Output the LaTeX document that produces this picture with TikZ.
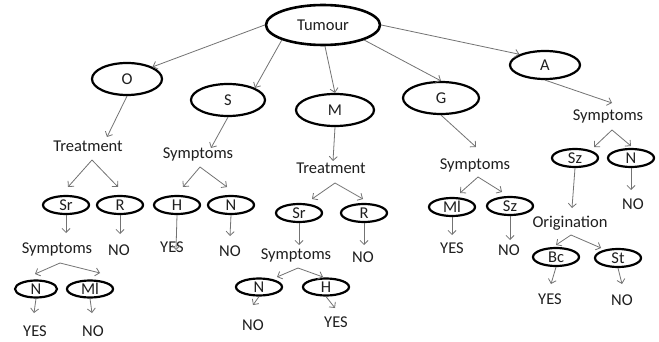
\documentclass[tikz,border=0pt]{standalone}
\usepackage{fontspec}
\setmainfont{Carlito}
\usetikzlibrary{shapes.geometric,arrows.meta,calc}
\begin{document}
\begin{tikzpicture}[x=1pt,y=-1pt,
  every node/.style={font=\fontsize{16.5}{19}\selectfont, text=black!88},
  ell/.style={draw, ellipse, line width=2.2pt, inner sep=0pt, text height=10.5pt, text depth=0pt},
  sm/.style={ell, minimum width=46pt, minimum height=18pt},
  txt/.style={inner sep=0pt, text height=10.5pt, text depth=0pt},
  arr/.style={draw=black!55, line width=0.8pt, -{Straight Barb[length=4pt,width=8pt]}}]
\useasboundingbox[fill=white] (0,0) rectangle (659,342);

% main ellipses
\node[ell, line width=2.6pt, minimum width=114pt, minimum height=40pt] (tum) at (323,25) {Tumour};
\node[ell, minimum width=70pt, minimum height=32pt] (O) at (127,79) {O};
\node[ell, minimum width=74pt, minimum height=32pt] (S) at (228,100) {S};
\node[ell, minimum width=78pt, minimum height=32pt] (M) at (335,110) {M};
\node[ell, minimum width=76pt, minimum height=32pt] (G) at (441,98) {G};
\node[ell, minimum width=70pt, minimum height=28pt] (A) at (545,65) {A};

% small ellipses
\node[sm] (srO) at (66,205) {Sr};
\node[sm] (rO) at (120,205) {R};
\node[sm, minimum width=42pt, minimum height=17pt] (nO) at (36,289) {N};
\node[sm, minimum height=17pt] (mlO) at (90,289) {Ml};
\node[sm] (hS) at (177,205) {H};
\node[sm] (nS) at (231,205) {N};
\node[sm] (srM) at (299,213) {Sr};
\node[sm] (rM) at (364,213) {R};
\node[sm, minimum height=17pt] (nM) at (259,287) {N};
\node[sm, minimum height=17pt] (hM) at (326,287) {H};
\node[sm] (mlG) at (452,207) {Ml};
\node[sm] (szG) at (510,206) {Sz};
\node[sm] (szA) at (575,158) {Sz};
\node[sm] (nA) at (631,158) {N};
\node[sm] (bcA) at (556,257) {Bc};
\node[sm] (stA) at (618,258) {St};

% text labels
\node[txt] (trO) at (88,146) {Treatment};
\node[txt] (syS) at (198,153) {Symptoms};
\node[txt] (syO) at (57,248) {Symptoms};
\node[txt] (noR1) at (119,250) {NO};
\node[txt] (yesO) at (35,331) {YES};
\node[txt] (noO) at (93,331) {NO};
\node[txt] (yesS) at (172,247) {YES};
\node[txt] (noS) at (230,251) {NO};
\node[txt] (trM) at (331,168) {Treatment};
\node[txt] (syM) at (296,254) {Symptoms};
\node[txt] (noRM) at (363,257) {NO};
\node[txt] (noM) at (253,325) {NO};
\node[txt] (yesM) at (336,322) {YES};
\node[txt] (syG) at (475,164) {Symptoms};
\node[txt] (yesG) at (452,248) {YES};
\node[txt] (noG) at (509,250) {NO};
\node[txt] (syA) at (608,115) {Symptoms};
\node[txt] (noA) at (633,204) {NO};
\node[txt] (orA) at (570,222) {Origination};
\node[txt] (yesA) at (550,299) {YES};
\node[txt] (noA2) at (622,300) {NO};

% branch apexes
\coordinate (trOa) at ($(trO)+(4,14)$);
\coordinate (syOa) at ($(syO)+(3,15)$);
\coordinate (sySa) at ($(syS)+(2,14)$);
\coordinate (trMa) at ($(trM)+(4,15)$);
\coordinate (syMa) at ($(syM)+(2,14)$);
\coordinate (syGa) at ($(syG)+(3,13)$);
\coordinate (syAa) at ($(syA)+(4,15)$);
\coordinate (orAa) at ($(orA)+(1,13)$);

% top level
\draw[arr] (tum.west) -- (O.north east);
\draw[arr] (tum.south west) -- (S.north east);
\draw[arr] ($(tum.south)+(2,0)$) -- (M.north);
\draw[arr] (tum.south east) -- (G.north);
\draw[arr] (tum.east) -- (A.north west);

% to labels
\draw[arr] (O.south) -- ($(trO)+(19,-9)$);
\draw[arr] (S.south) -- ($(syS)+(13,-5)$);
\draw[arr] (M.south) -- ($(trM)+(2,-7)$);
\draw[arr] (G.south) -- ($(syG)+(1,-17)$);
\draw[arr] (A.south) -- ($(syA)+(4,-12)$);

% branches
\draw[arr] (trOa) -- ($(srO)+(2,-18)$);
\draw[arr] (trOa) -- ($(rO)+(-2,-18)$);
\draw[arr] (syOa) -- ($(nO)+(-1,-15)$);
\draw[arr] (syOa) -- ($(mlO)+(10,-16)$);
\draw[arr] (sySa) -- ($(hS)+(6,-18)$);
\draw[arr] (sySa) -- ($(nS)+(-4,-18)$);
\draw[arr] (trMa) -- ($(srM)+(13,-14)$);
\draw[arr] (trMa) -- ($(rM)+(-1,-14)$);
\draw[arr] (syMa) -- ($(nM)+(18,-10)$);
\draw[arr] (syMa) -- ($(hM)+(-3,-10)$);
\draw[arr] (syGa) -- ($(mlG)+(8,-14)$);
\draw[arr] (syGa) -- ($(szG)+(-8,-14)$);
\draw[arr] (syAa) -- ($(szA)+(19,-11)$);
\draw[arr] (syAa) -- ($(nA)+(0,-12)$);
\draw[arr] (orAa) -- ($(bcA)+(0,-12)$);
\draw[arr] (orAa) -- ($(stA)+(-17,-10)$);

% leaves
\draw[arr] (srO.south) -- ($(syO)+(9,-15)$);
\draw[arr] (rO.south) -- ($(noR1)+(1,-16)$);
\draw[arr] (nO.south) -- ($(yesO)+(-1,-18)$);
\draw[arr] (mlO.south) -- ($(noO)+(-1,-18)$);
\draw[arr] (hS.south) -- ($(yesS)+(4,3)$);
\draw[arr] (nS.south) -- ($(noS)+(0,-15)$);
\draw[arr] (srM.south) -- ($(syM)+(3,-9)$);
\draw[arr] (rM.south) -- ($(noRM)+(1,-12)$);
\draw[arr] (nM.south) -- ($(noM)+(0,-20)$);
\draw[arr] (hM.south) -- ($(yesM)+(-1,-14)$);
\draw[arr] (mlG.south) -- ($(yesG)+(0,-13)$);
\draw[arr] (szG.south) -- ($(noG)+(1,-10)$);
\draw[arr] (szA.south) -- ($(orA)+(2,-14)$);
\draw[arr] (nA.south) -- ($(noA)+(-2,-14)$);
\draw[arr] (bcA.south) -- ($(yesA)+(1,-15)$);
\draw[arr] (stA.south) -- ($(noA2)+(0,-16)$);
\end{tikzpicture}
\end{document}
